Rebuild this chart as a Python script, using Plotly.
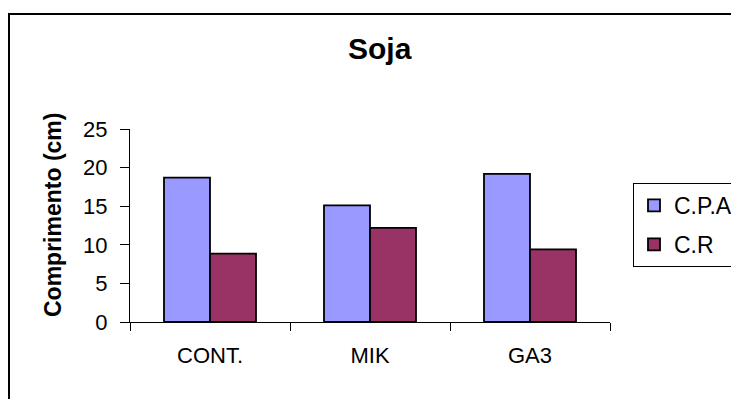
import plotly.graph_objects as go

categories = ["CONT.", "MIK", "GA3"]
cpa_values = [18.7, 15.1, 19.2]
cr_values = [8.85, 12.2, 9.4]
series_names = ["C.P.A", "C.R"]
y_ticks = [0, 5, 10, 15, 20, 25]

# page body has an 8px margin; figure is sized to fit the window
OFF = 8
W, H = 739 - OFF, 399 - OFF
L, T = 130 - OFF, 129 - OFF
R = W - (610 - OFF)
B = H - (322 - OFF)
pw, ph = W - L - R, H - T - B

def px_x(p):
    return (p - OFF - L) / pw

def px_y(p):
    return (H - B - (p - OFF)) / ph

font_family = "Liberation Sans, Arial, sans-serif"

fig = go.Figure()
fig.add_trace(go.Bar(x=categories, y=cpa_values, name=series_names[0],
                     marker=dict(color="#9999FF", line=dict(color="black", width=1.8)),
                     legendgroup="a"))
fig.add_trace(go.Bar(x=categories, y=cr_values, name=series_names[1],
                     marker=dict(color="#993366", line=dict(color="black", width=1.8)),
                     legendgroup="b"))

fig.update_layout(
    width=W, height=H,
    margin=dict(l=L, r=R, t=T, b=B, autoexpand=False),
    paper_bgcolor="white", plot_bgcolor="white",
    font=dict(family=font_family, color="black", size=21),
    barmode="group", bargap=0.425, bargroupgap=0,
    showlegend=True,
    legend=dict(x=px_x(633), y=px_y(183), xanchor="left", yanchor="top",
                bordercolor="black", borderwidth=1, bgcolor="white",
                font=dict(size=23), tracegroupgap=6, traceorder="grouped",
                itemwidth=30),
    xaxis=dict(showline=True, linecolor="black", linewidth=1,
               ticks="outside", tickson="boundaries", ticklen=8, tickcolor="black",
               tickfont=dict(size=22), ticklabelstandoff=14, showgrid=False),
    yaxis=dict(range=[0, 25], tickvals=y_ticks, showline=True, linecolor="black", linewidth=1,
               ticks="outside", ticklen=9, tickcolor="black", showgrid=False,
               tickfont=dict(size=22), ticklabelstandoff=8, zeroline=False),
    shapes=[dict(type="rect", xref="paper", yref="paper",
                 x0=px_x(9), x1=px_x(760), y0=px_y(420), y1=px_y(14),
                 line=dict(color="black", width=2), fillcolor="rgba(0,0,0,0)", layer="below")],
    annotations=[
        dict(text="<b>Soja</b>", xref="paper", yref="paper", x=px_x(380), y=px_y(48),
             xanchor="center", yanchor="middle", showarrow=False, font=dict(size=30)),
        dict(text="<b>Comprimento (cm)</b>", xref="paper", yref="paper", x=px_x(53), y=px_y(215),
             xanchor="center", yanchor="middle", showarrow=False, textangle=-90,
             font=dict(size=23)),
    ],
)

fig.write_html("out.html")
